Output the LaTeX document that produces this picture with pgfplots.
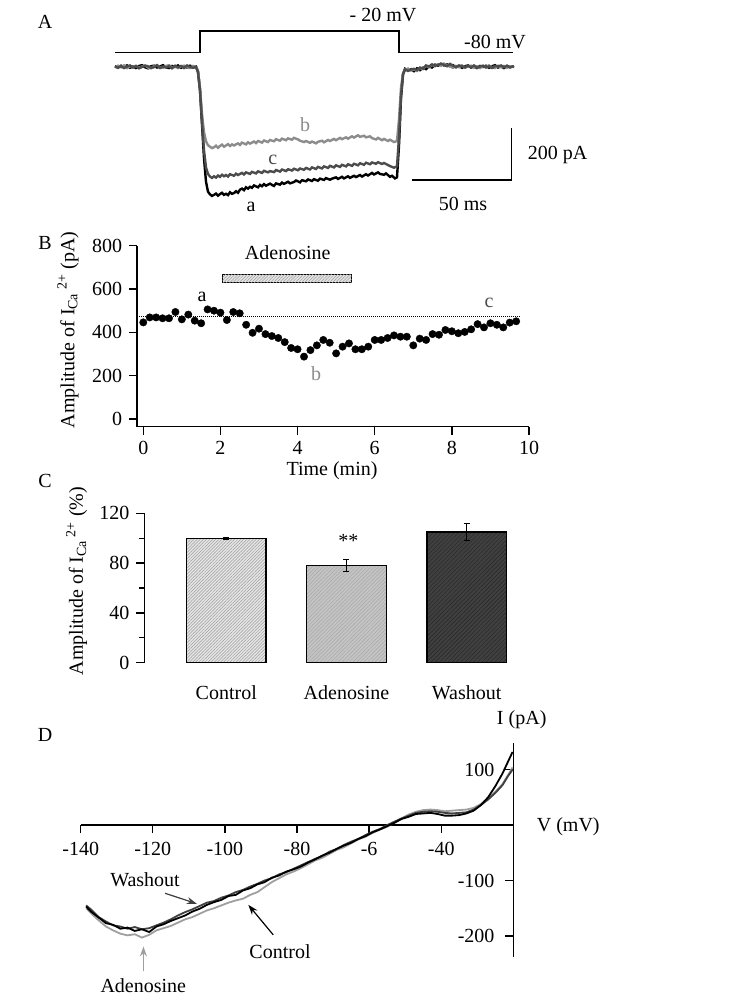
\documentclass[border=0pt]{standalone}
\usepackage{fontspec}
\setmainfont{Liberation Serif}
\usepackage{pgfplots}
\pgfplotsset{compat=1.18}
\usetikzlibrary{patterns.meta,arrows.meta}

\definecolor{trB}{gray}{0.55}
\definecolor{trC}{gray}{0.30}
\definecolor{ctl}{gray}{0.90}
\definecolor{ctlL}{gray}{0.62}
\definecolor{ado}{gray}{0.77}
\definecolor{adoL}{gray}{0.66}
\definecolor{wsh}{gray}{0.25}
\definecolor{wshL}{gray}{0.17}

\pgfplotsset{
  panel/.style={scale only axis, anchor=south west, clip=false,
    /pgf/number format/assume math mode=true,
    axis line style={line width=1.3pt, black},
    tick style={line width=1.3pt, black},
    major tick length=8pt, minor tick length=5pt},
}

\begin{document}
\fontsize{20}{24}\selectfont
\begin{tikzpicture}
\useasboundingbox (0,0) rectangle (740pt,-1004pt);

% ---------- A: current traces ----------
\begin{axis}[panel, axis lines=none, width=500pt, height=205pt, at={(100pt,-215pt)},
  xmin=-7, xmax=243, ymin=-567, ymax=217]
% voltage protocol
\addplot[black, line width=1.2pt] coordinates {(0.5,56) (43,56) (43,136.5) (142.5,136.5) (142.5,56) (199.5,56)};
% trace a
\addplot[black, line width=2.4pt] coordinates {
 (0.5,2) (2,-3) (3.5,4) (5,-1) (6.5,5) (8,-4) (9.5,1) (11,-5) (12.5,3) (14,6) (15.5,-2) (17,-6) (18.5,2) (20,4)
 (21.5,-3) (23,1) (24.5,6) (26,-2) (27.5,-5) (29,3) (30.5,-1) (32,5) (33.5,-4) (35,2) (36.5,-3) (38,4) (39.5,-2) (41,1)
 (42,-20) (43,-90) (44,-220) (45,-350) (46,-440) (47,-478) (48,-488) (49,-494)
 (50,-490) (51,-485) (52,-493) (53,-487) (54,-482) (55,-490) (56,-486) (57,-491) (58,-480) (59,-486) (60,-483)
 (61,-476) (62,-482) (63,-470) (64,-466) (65,-472) (66,-461) (67,-466) (68,-459) (69,-463) (70,-454) (72,-461)
 (73,-452) (74,-457) (75,-449) (76,-455) (78,-447) (79,-452) (80,-456) (81,-446) (83,-451) (84,-443) (85,-448)
 (87,-440) (88,-446) (90,-441) (91,-435) (93,-442) (94,-434) (96,-438) (97,-431) (99,-437) (100,-430) (102,-436)
 (103,-428) (105,-433) (106,-426) (108,-432) (109,-428) (111,-423) (112,-429) (114,-421) (115,-427) (117,-419)
 (118,-425) (120,-417) (121,-422) (123,-414) (124,-420) (126,-411) (127,-416) (129,-406) (130,-412) (132,-404)
 (133,-410) (135,-413) (136,-408) (138,-421) (139,-417) (140.5,-427) (141.5,-423)
 (142.5,-300) (143.5,-120) (144.5,-30) (145.5,-8) (147,-14) (148.5,-9) (150,-17) (151.5,-6) (153,-13) (154.5,-4)
 (156,-9) (157.5,2) (159,-3) (160.5,8) (162,4) (163.5,11) (165,5) (166.5,9) (168,2) (169.5,6) (171,-2) (172.5,3)
 (174,-4) (175.5,2) (177,5) (178.5,-3) (180,1) (181.5,-5) (183,3) (184.5,-1) (186,4) (187.5,-4) (189,2) (190.5,6)
 (192,-3) (193.5,1) (195,-5) (196.5,3) (198,-1) (200,2)};
% trace b
\addplot[trB, line width=2.4pt] coordinates {
 (0.5,-3) (2,4) (3.5,-2) (5,5) (6.5,-5) (8,2) (9.5,-1) (11,4) (12.5,-4) (14,1) (15.5,5) (17,-3) (18.5,-6) (20,2)
 (21.5,5) (23,-2) (24.5,-4) (26,3) (27.5,6) (29,-3) (30.5,2) (32,-5) (33.5,1) (35,4) (36.5,-2) (38,-5) (39.5,3) (41,0)
 (42,-15) (43,-80) (44,-180) (45,-250) (46,-285) (47,-300) (48,-306) (49,-311)
 (50,-308) (51,-302) (52,-310) (53,-303) (54,-298) (55,-306) (56,-301) (57,-296) (58,-303) (59,-297) (60,-301)
 (62,-293) (63,-299) (64,-290) (66,-297) (67,-289) (68,-294) (70,-286) (71,-292) (72,-284) (74,-290) (75,-282)
 (77,-288) (78,-280) (80,-285) (81,-277) (83,-283) (84,-275) (86,-281) (87,-274) (89,-279) (90,-272) (92,-278)
 (93,-283) (95,-288) (96,-284) (98,-291) (99,-286) (101,-293) (102,-287) (104,-283) (105,-289) (107,-280)
 (108,-284) (110,-276) (111,-281) (113,-272) (114,-277) (116,-270) (117,-275) (119,-266) (120,-271) (122,-262)
 (123,-268) (125,-264) (126,-270) (128,-266) (129,-273) (131,-278) (132,-272) (134,-281) (135,-276) (137,-284)
 (138,-279) (140,-288) (141.5,-284)
 (142.5,-200) (143.5,-80) (144.5,-25) (145.5,-12) (147,-7) (148.5,-14) (150,-10) (151.5,-16) (153,-5) (154.5,-9)
 (156,3) (157.5,-2) (159,7) (160.5,2) (162,10) (163.5,4) (165,12) (166.5,5) (168,1) (169.5,-4) (171,3) (172.5,-2)
 (174,5) (175.5,-3) (177,1) (178.5,4) (180,-4) (181.5,2) (183,-5) (184.5,3) (186,-1) (187.5,5) (189,-2) (190.5,-5)
 (192,4) (193.5,-2) (195,3) (196.5,-4) (198,2) (200,-1)};
% trace c
\addplot[trC, line width=2.4pt] coordinates {
 (0.5,1) (2,-4) (3.5,2) (5,-5) (6.5,1) (8,5) (9.5,-3) (11,2) (12.5,-6) (14,-1) (15.5,4) (17,2) (18.5,-4) (20,-2)
 (21.5,6) (23,-5) (24.5,1) (26,-3) (27.5,2) (29,-6) (30.5,4) (32,-2) (33.5,3) (35,-5) (36.5,5) (38,-1) (39.5,-4) (41,-1)
 (42,-20) (43,-90) (44,-210) (45,-320) (46,-385) (47,-410) (48,-420) (49,-425)
 (50,-419) (51,-424) (52,-416) (53,-421) (54,-413) (55,-419) (56,-414) (57,-420) (58,-411) (60,-417) (61,-409)
 (62,-414) (64,-406) (65,-412) (66,-404) (68,-410) (69,-402) (71,-408) (72,-400) (74,-406) (75,-398) (77,-404)
 (78,-399) (80,-403) (81,-395) (83,-401) (84,-393) (86,-399) (87,-392) (89,-397) (90,-390) (92,-396) (93,-389)
 (95,-394) (96,-387) (98,-393) (99,-385) (101,-391) (102,-383) (104,-389) (105,-381) (107,-387) (108,-379)
 (110,-385) (111,-377) (113,-383) (114,-375) (116,-381) (117,-373) (119,-379) (120,-371) (122,-377) (123,-369)
 (125,-375) (126,-367) (128,-373) (129,-366) (131,-371) (132,-365) (134,-372) (135,-368) (137,-376) (138,-380)
 (140,-386) (141.5,-381)
 (142.5,-270) (143.5,-110) (144.5,-28) (145.5,-10) (147,-16) (148.5,-11) (150,-8) (151.5,-13) (153,-3) (154.5,-7)
 (156,5) (157.5,1) (159,9) (160.5,4) (162,6) (163.5,12) (165,7) (166.5,2) (168,11) (169.5,4) (171,-1) (172.5,5)
 (174,2) (175.5,-3) (177,4) (178.5,-2) (180,5) (181.5,-4) (183,1) (184.5,4) (186,-3) (187.5,2) (189,-5) (190.5,3)
 (192,1) (193.5,5) (195,-2) (196.5,4) (198,-3) (200,2)};
% scale bars
\addplot[black, line width=1.3pt] coordinates {(148.9,-433) (198.9,-433) (198.9,-233)};
\end{axis}
\node at (45pt,-22pt) {A};
\node at (383pt,-15pt) {- 20 mV};
\node at (495pt,-41.7pt) {-80 mV};
\node[text=trB] at (305pt,-125pt) {b};
\node[text=trC] at (272.7pt,-160pt) {c};
\node at (251pt,-206.7pt) {a};
\node[anchor=west] at (521pt,-155pt) {200 pA};
\node at (463pt,-204pt) {50 ms};

% ---------- B: time course ----------
\begin{axis}[panel, width=392pt, height=181pt, at={(137pt,-426.7pt)},
  xmin=-0.163, xmax=10, ymin=-35.5, ymax=800,
  axis x line*=bottom, axis y line*=left, tick align=outside,
  xtick={0,2,...,10}, ytick={0,200,...,800}, minor tick num=0]
\addplot[black, line width=1pt, densely dotted] coordinates {(-0.163,472) (9.77,472)};
\draw[black, line width=1pt, fill=ctl, postaction={pattern={Lines[angle=45,distance=2.2pt,line width=0.5pt]}, pattern color=ctlL}]
  (axis cs:2.06,629) rectangle (axis cs:5.40,666);
\addplot[only marks, mark=*, mark size=3.7pt, black] coordinates {
 (0,446) (0.167,469) (0.333,469) (0.5,465) (0.667,465) (0.833,494) (1,460) (1.167,482) (1.333,454) (1.5,442)
 (1.667,506) (1.833,500) (2,491) (2.167,457) (2.333,494) (2.5,488) (2.667,435) (2.833,398) (3,417) (3.167,392)
 (3.333,383) (3.5,374) (3.667,355) (3.833,328) (4,322) (4.167,288) (4.333,318) (4.5,340) (4.667,365) (4.833,352)
 (5,303) (5.167,334) (5.333,349) (5.5,322) (5.667,322) (5.833,334) (6,365) (6.167,365) (6.333,374) (6.5,386)
 (6.667,380) (6.833,380) (7,340) (7.167,371) (7.333,365) (7.5,392) (7.667,389) (7.833,411) (8,405) (8.167,396)
 (8.333,402) (8.5,414) (8.667,438) (8.833,423) (9,442) (9.167,435) (9.333,423) (9.5,445) (9.667,451)};
\end{axis}
\node at (45pt,-243pt) {B};
\node at (287.7pt,-253pt) {Adenosine};
\node at (202pt,-296.7pt) {a};
\node[text=trB] at (316pt,-374pt) {b};
\node[text=trC] at (489pt,-302.7pt) {c};
\node at (332pt,-471pt) {Time (min)};
\node[rotate=90] at (68pt,-330pt) {Amplitude of I\textsubscript{Ca}\,\textsuperscript{2+} (pA)};

% ---------- C: summary bars ----------
\begin{axis}[panel, width=382.5pt, height=149.4pt, at={(144.3pt,-662.7pt)},
  xmin=-0.682, xmax=2.5, ymin=0, ymax=120,
  axis y line*=left, axis x line*=bottom, x axis line style={draw=none},
  xtick style={draw=none}, tick align=outside,
  xtick={0,1,2}, xticklabels={Control,Adenosine,Washout}, xticklabel style={yshift=-8pt},
  ytick={0,40,80,120}, minor ytick={20,60,100}]
\addplot[ybar, bar width=0.661, bar shift=0pt, draw=black, line width=1.2pt, fill=ctl,
  postaction={pattern={Lines[angle=45,distance=2.2pt,line width=0.5pt]}, pattern color=ctlL},
  error bars/.cd, y dir=both, y explicit,
  error bar style={line width=1.2pt, black}, error mark options={rotate=90, mark size=3pt, line width=1.2pt, black}]
  coordinates {(0,100) +- (0,0.6)};
\addplot[ybar, bar width=0.661, bar shift=0pt, draw=black, line width=1.2pt, fill=ado,
  postaction={pattern={Lines[angle=45,distance=2.6pt,line width=0.5pt]}, pattern color=adoL},
  error bars/.cd, y dir=both, y explicit,
  error bar style={line width=1.2pt, black}, error mark options={rotate=90, mark size=3pt, line width=1.2pt, black}]
  coordinates {(1,78) +- (0,4.6)};
\addplot[ybar, bar width=0.661, bar shift=0pt, draw=black, line width=1.2pt, fill=wsh,
  postaction={pattern={Lines[angle=45,distance=3pt,line width=0.6pt]}, pattern color=wshL},
  error bars/.cd, y dir=both, y explicit,
  error bar style={line width=1.2pt, black}, error mark options={rotate=90, mark size=3pt, line width=1.2pt, black}]
  coordinates {(2,105) +- (0,6.7)};
\end{axis}
\node at (45pt,-481pt) {C};
\node at (348.3pt,-541pt) {**};
\node[rotate=90] at (76.7pt,-581pt) {Amplitude of I\textsubscript{Ca}\,\textsuperscript{2+} (\%)};

% ---------- D: I-V curves ----------
\begin{axis}[panel, width=432.6pt, height=214.6pt, at={(80.7pt,-957.3pt)},
  xmin=-140, xmax=-20, ymin=-238.6, ymax=148.6,
  axis x line*=middle, axis y line*=right, tick align=center,
  xtick style={yshift=-4pt}, ytick style={xshift=-4pt},
  xtick={-140,-120,-100,-80,-60,-40}, xticklabels={-140,-120,-100,-80,-6,-40},
  xticklabel style={yshift=-6pt},
  ytick={-200,-100,100}, yticklabels={-200,-100,100},
  yticklabel style={anchor=east, xshift=-16pt}]
\addplot[gray!75, line width=1.8pt] coordinates {
 (-138.5,-150) (-137,-160) (-135,-172) (-133,-183) (-131,-190) (-129,-196) (-127,-199) (-125,-197) (-123,-203) (-121,-198)
 (-119,-190) (-117,-186) (-115,-182) (-113,-176) (-111,-170) (-109,-166) (-107,-160) (-105,-154) (-103,-150) (-101,-145)
 (-99,-140) (-97,-136) (-95,-133) (-93,-126) (-91,-121) (-89,-112) (-87,-103) (-85,-96) (-83,-89) (-81,-84)
 (-79,-78) (-77,-71) (-75,-64) (-73,-59) (-71,-52) (-69,-45) (-67,-40) (-65,-33) (-63,-26) (-61,-21)
 (-59,-14) (-57,-8) (-55,-3) (-53,5) (-51,12) (-49,19) (-47,24) (-45,27) (-43,28) (-41,27)
 (-39,25) (-37,26) (-35,27) (-33,28) (-31,31) (-29,38) (-27,48) (-25,60) (-23,74) (-21.5,90) (-20.2,104)};
\addplot[wsh, line width=1.8pt] coordinates {
 (-138.5,-145) (-137,-153) (-135,-166) (-133,-174) (-131,-181) (-129,-183) (-127,-187) (-125,-184) (-123,-188) (-121,-186)
 (-119,-181) (-117,-176) (-115,-170) (-113,-163) (-111,-157) (-109,-152) (-107,-146) (-105,-140) (-103,-137) (-101,-131)
 (-99,-127) (-97,-121) (-95,-117) (-93,-111) (-91,-106) (-89,-100) (-87,-96) (-85,-89) (-83,-85) (-81,-79)
 (-79,-73) (-77,-67) (-75,-61) (-73,-56) (-71,-48) (-69,-43) (-67,-36) (-65,-30) (-63,-25) (-61,-18)
 (-59,-12) (-57,-7) (-55,0) (-53,6) (-51,12) (-49,17) (-47,22) (-45,24) (-43,25) (-41,24)
 (-39,22) (-37,21) (-35,22) (-33,23) (-31,28) (-29,36) (-27,46) (-25,58) (-23,72) (-21.5,88) (-20.2,100)};
\addplot[black, line width=1.8pt] coordinates {
 (-138.5,-147) (-137,-157) (-135,-167) (-133,-177) (-131,-180) (-129,-187) (-127,-185) (-125,-191) (-123,-188) (-121,-193)
 (-119,-183) (-117,-179) (-115,-173) (-113,-168) (-111,-163) (-109,-156) (-107,-151) (-105,-144) (-103,-139) (-101,-135)
 (-99,-128) (-97,-126) (-95,-118) (-93,-114) (-91,-107) (-89,-103) (-87,-95) (-85,-91) (-83,-84) (-81,-80)
 (-79,-75) (-77,-68) (-75,-62) (-73,-55) (-71,-50) (-69,-43) (-67,-37) (-65,-32) (-63,-25) (-61,-20)
 (-59,-13) (-57,-8) (-55,-2) (-53,4) (-51,11) (-49,15) (-47,20) (-45,21) (-43,22) (-41,20)
 (-39,17) (-37,17) (-35,18) (-33,21) (-31,26) (-29,36) (-27,50) (-25,70) (-23,93) (-21.5,114) (-20.2,132)};
\draw[-{Stealth[length=10pt,width=7pt]}, line width=1.2pt, wsh] (axis cs:-116.6,-123) -- (axis cs:-107.8,-142);
\draw[-{Stealth[length=10pt,width=7pt]}, line width=1.2pt, black] (axis cs:-86.6,-198) -- (axis cs:-93.5,-144);
\draw[-{Stealth[length=10pt,width=7pt]}, line width=1.2pt, gray!75] (axis cs:-122.6,-264) -- (axis cs:-122.6,-219);
\end{axis}
\node at (45pt,-735pt) {D};
\node at (521.7pt,-720pt) {I (pA)};
\node[anchor=west] at (530pt,-827pt) {V (mV)};
\node at (145pt,-880pt) {Washout};
\node at (280pt,-951.7pt) {Control};
\node at (143.3pt,-986pt) {Adenosine};
\end{tikzpicture}
\end{document}
